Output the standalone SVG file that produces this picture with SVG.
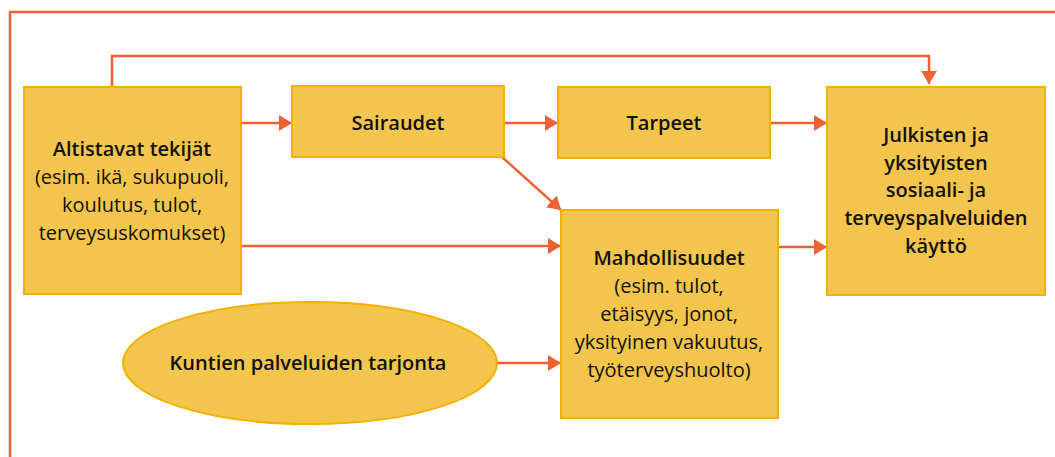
<svg xmlns="http://www.w3.org/2000/svg" width="1055" height="457" viewBox="0 0 1055 457">
<style>
.box{fill:#f4c54c;stroke:#f2b100;stroke-width:2}
.ln{fill:none;stroke:#ee6132;stroke-width:2.5}
.t{font-family:"Open Sans","Noto Sans",sans-serif;font-size:20px;fill:#111;text-anchor:middle}
.b{font-weight:600}
</style>
<defs>
<marker id="ah" viewBox="0 0 13 16" refX="13" refY="8" markerWidth="13" markerHeight="16" markerUnits="userSpaceOnUse" orient="auto">
<path d="M0,0 L13,8 L0,16 Z" fill="#ee6132"/>
</marker>
</defs>
<rect width="1055" height="457" fill="#fff"/>
<path d="M10,457 V12 H1055" fill="none" stroke="#ee6132" stroke-width="2.5"/>
<g id="connectors">
<path class="ln" d="M112,87 V56 H929 V84" marker-end="url(#ah)"/>
<path class="ln" d="M241,123 H292" marker-end="url(#ah)"/>
<path class="ln" d="M504,123 H558" marker-end="url(#ah)"/>
<path class="ln" d="M770,123 H827" marker-end="url(#ah)"/>
<path class="ln" d="M502,157 L561,210" marker-end="url(#ah)"/>
<path class="ln" d="M241,246 H561" marker-end="url(#ah)"/>
<path class="ln" d="M778,247 H827" marker-end="url(#ah)"/>
<path class="ln" d="M497,363 H561" marker-end="url(#ah)"/>
</g>
<g id="altistavat">
<rect class="box" x="24" y="87" width="217" height="207"/>
<text class="t" x="132" y="156"><tspan class="b" x="132">Altistavat tekijät</tspan><tspan x="132" dy="28">(esim. ikä, sukupuoli,</tspan><tspan x="132" dy="28">koulutus, tulot,</tspan><tspan x="132" dy="28">terveysuskomukset)</tspan></text>
</g>
<g id="sairaudet">
<rect class="box" x="292" y="86" width="212" height="71"/>
<text class="t b" x="398" y="130">Sairaudet</text>
</g>
<g id="tarpeet">
<rect class="box" x="558" y="87" width="212" height="71"/>
<text class="t b" x="664" y="130">Tarpeet</text>
</g>
<g id="julkisten">
<rect class="box" x="827" y="87" width="218" height="208"/>
<text class="t b" x="936" y="142"><tspan x="936">Julkisten ja</tspan><tspan x="936" dy="27.7">yksityisten</tspan><tspan x="936" dy="27.7">sosiaali- ja</tspan><tspan x="936" dy="27.7">terveyspalveluiden</tspan><tspan x="936" dy="27.7">käyttö</tspan></text>
</g>
<g id="mahdollisuudet">
<rect class="box" x="561" y="210" width="217" height="208"/>
<text class="t" x="669" y="265"><tspan class="b" x="669">Mahdollisuudet</tspan><tspan x="669" dy="28">(esim. tulot,</tspan><tspan x="669" dy="28">etäisyys, jonot,</tspan><tspan x="669" dy="28">yksityinen vakuutus,</tspan><tspan x="669" dy="28">työterveyshuolto)</tspan></text>
</g>
<g id="kuntien">
<ellipse class="box" cx="310" cy="363" rx="187" ry="61"/>
<text class="t b" x="308" y="370">Kuntien palveluiden tarjonta</text>
</g>
</svg>
